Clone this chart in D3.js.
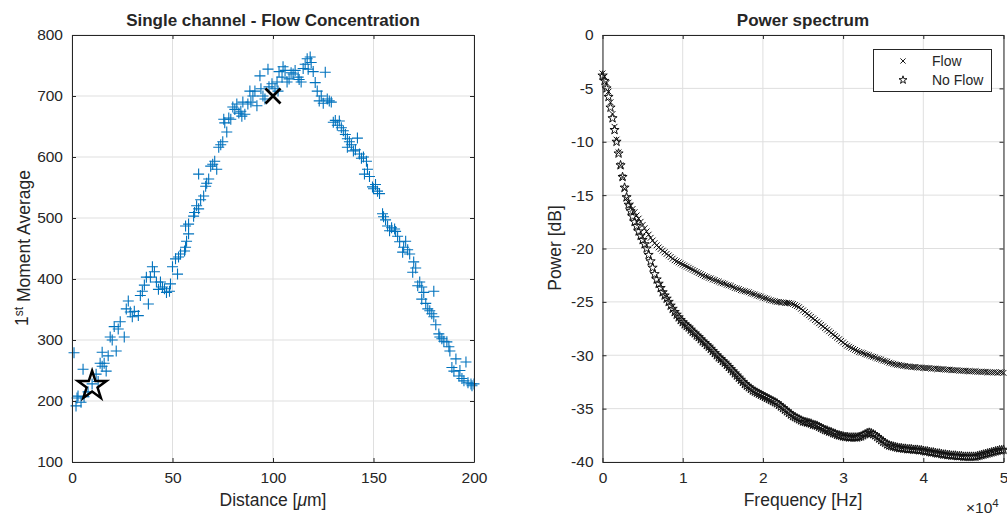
<!DOCTYPE html>
<html><head><meta charset="utf-8">
<script src="https://cdn.jsdelivr.net/npm/d3@7"></script>
<style>
body{margin:0;background:#fff}
svg{display:block}
text{font-family:"Liberation Sans",Arial,Helvetica,sans-serif;fill:#262626}
</style>
</head><body>
<svg id="c" width="1007" height="517"></svg>
<script>
// ---------- Left panel data: Distance [um] vs 1st moment average ----------
const distance = [1,2,2.5,3,4.5,5.5,6,8,10,12,13,14,15,15,16,17,18,19,20,21,22,23,24,26,27,28,29,30,31,33,34,35,36,37,38,39,40,41,42,43,44,45,46,47,48.5,49,50,51.5,52.5,53,54,56,56.5,56.5,57,58,58,60.5,61,62,63,63,64,65.5,66.5,67,68,69,70,71,72,73,74,75,75.5,76,77,78,79,80,81,82,83,84,84.5,85,86,87.5,88.5,89,90,91,92,93.5,94,95,96,97.5,98,99.5,101,102,102.5,103,104.5,105,106,107,108,109,110,111,112.5,113,114,115,116,117,117.5,118.5,119,120,121,122,123,124,125,126,127,128,129,130,131,132,133,134,135,136,137,137,138,139,140,141,142,143,144,145,145.5,146.5,147,148,149.5,150,151,152,153,154.5,155,156,157,158,159,160.5,161,162,163,164.5,165,166,167,168,169.5,170,171,172,173,174,174,175,176,177,178,179,180,180,181,182.5,183,184,185,186.5,187.5,188,189,190,191,192.5,193,194,195,196,197,198.5,199,200];
const moment = [279,192,205,208,198,252,207,215,228,244,232,262,257,280,262,249,274,305,300,322,282,318,330,305,351,364,346,338,347,340,373,380,390,403,359,403,420,412,395,383,395,387,384,378,380,392,420,433,408,436,441,446,452,487,462,474,490,503,509,520,515,572,530,536,552,557,564,585,588,593,580,616,620,625,662,656,641,664,662,682,678,687,672,675,667,690,670,687,708,690,700,708,684,733,712,700,695,744,715,720,712,723,708,740,731,748,742,723,728,738,736,742,731,727,723,745,752,761,744,764,755,740,722,708,692,700,688,739,695,692,690,657,660,652,659,648,643,637,630,616,625,620,610,612,631,605,598,600,572,593,580,568,551,548,555,544,540,507,502,497,487,479,484,482,478,470,461,444,452,462,448,441,411,428,418,389,395,387,367,378,360,351,348,343,380,338,325,310,305,302,298,297,289,282,255,249,269,241,250,237,233,264,230,228,225,228];
const flowMarker = [100, 700];   // black "x"
const noFlowMarker = [10, 225];  // black pentagram
const leftXTicks = [0, 50, 100, 150, 200];
const leftYTicks = [100, 200, 300, 400, 500, 600, 700, 800];

// ---------- Right panel data: power spectra, 250 Hz spacing, 0..50 kHz ----------
const freqStepHz = 250;
const powerFlow = [-3.6,-3.9,-4.5,-5.3,-6.3,-7.4,-8.6,-9.8,-11.0,-12.2,-13.3,-14.4,-15.3,-15.7,-16.0,-16.3,-16.6,-16.9,-17.2,-17.5,
-17.8,-18.1,-18.4,-18.7,-19.0,-19.25,-19.5,-19.7,-19.9,-20.05,-20.2,-20.35,-20.5,-20.65,-20.8,-20.95,-21.1,-21.2,-21.3,-21.4,
-21.5,-21.6,-21.7,-21.8,-21.9,-22.0,-22.1,-22.2,-22.3,-22.4,-22.5,-22.6,-22.65,-22.75,-22.8,-22.9,-22.95,-23.05,-23.1,-23.2,
-23.25,-23.3,-23.4,-23.45,-23.5,-23.6,-23.7,-23.75,-23.8,-23.9,-23.95,-24.0,-24.05,-24.1,-24.2,-24.25,-24.3,-24.4,-24.45,-24.5,
-24.6,-24.65,-24.7,-24.8,-24.85,-24.9,-24.95,-25.0,-25.0,-25.05,-25.05,-25.1,-25.1,-25.1,-25.15,-25.2,-25.3,-25.4,-25.5,-25.65,
-25.8,-25.95,-26.1,-26.25,-26.4,-26.55,-26.7,-26.85,-27.0,-27.15,-27.3,-27.45,-27.6,-27.75,-27.9,-28.05,-28.2,-28.35,-28.5,-28.65,
-28.8,-28.95,-29.1,-29.2,-29.3,-29.4,-29.5,-29.6,-29.7,-29.75,-29.8,-29.9,-29.95,-30.0,-30.1,-30.15,-30.2,-30.3,-30.35,-30.4,
-30.5,-30.55,-30.6,-30.7,-30.75,-30.8,-30.85,-30.9,-30.9,-30.95,-31.0,-31.0,-31.05,-31.05,-31.1,-31.1,-31.1,-31.15,-31.15,-31.15,
-31.2,-31.2,-31.2,-31.2,-31.25,-31.25,-31.25,-31.3,-31.3,-31.3,-31.3,-31.35,-31.35,-31.35,-31.4,-31.4,-31.4,-31.4,-31.45,-31.45,
-31.45,-31.45,-31.5,-31.5,-31.5,-31.5,-31.5,-31.55,-31.55,-31.55,-31.55,-31.55,-31.6,-31.6,-31.6,-31.6,-31.6,-31.65,-31.6,-31.6,
-31.65];
const powerNoFlow = [-3.8,-4.3,-5.0,-5.8,-6.8,-7.8,-8.9,-10.0,-11.1,-12.2,-13.3,-14.3,-15.2,-15.9,-16.5,-17.0,-17.5,-17.9,-18.4,-18.8,
-19.2,-19.6,-20.0,-20.6,-21.2,-21.8,-22.4,-22.9,-23.3,-23.7,-24.1,-24.4,-24.7,-25.0,-25.35,-25.65,-25.95,-26.2,-26.45,-26.7,
-26.9,-27.1,-27.25,-27.4,-27.6,-27.8,-27.95,-28.15,-28.3,-28.5,-28.7,-28.85,-29.05,-29.2,-29.4,-29.6,-29.8,-30.0,-30.2,-30.35,
-30.55,-30.7,-30.9,-31.1,-31.3,-31.5,-31.7,-31.9,-32.1,-32.3,-32.5,-32.7,-32.85,-33.0,-33.15,-33.3,-33.4,-33.5,-33.6,-33.7,
-33.8,-33.9,-34.0,-34.1,-34.2,-34.3,-34.4,-34.5,-34.65,-34.8,-34.95,-35.1,-35.25,-35.4,-35.55,-35.7,-35.8,-35.9,-36.0,-36.1,
-36.2,-36.25,-36.3,-36.35,-36.4,-36.5,-36.55,-36.6,-36.7,-36.8,-36.9,-37.0,-37.05,-37.15,-37.2,-37.3,-37.35,-37.45,-37.5,-37.55,
-37.6,-37.65,-37.65,-37.7,-37.7,-37.7,-37.7,-37.7,-37.65,-37.6,-37.5,-37.4,-37.3,-37.25,-37.3,-37.4,-37.5,-37.65,-37.8,-37.95,
-38.1,-38.2,-38.35,-38.45,-38.5,-38.55,-38.6,-38.65,-38.7,-38.7,-38.75,-38.75,-38.8,-38.8,-38.8,-38.85,-38.85,-38.85,-38.9,-38.9,
-38.95,-39.0,-39.0,-39.05,-39.1,-39.1,-39.15,-39.2,-39.2,-39.25,-39.3,-39.3,-39.35,-39.35,-39.4,-39.4,-39.4,-39.45,-39.45,-39.45,
-39.5,-39.5,-39.5,-39.5,-39.5,-39.5,-39.5,-39.45,-39.4,-39.35,-39.3,-39.25,-39.2,-39.15,-39.1,-39.05,-39.0,-38.95,-38.9,-38.9,
-38.85];
const rightXTicks = [0, 10000, 20000, 30000, 40000, 50000];
const rightXTickLabels = ["0", "1", "2", "3", "4", "5"];
const rightYTicks = [-40, -35, -30, -25, -20, -15, -10, -5, 0];
const legendLabels = ["Flow", "No Flow"];

// ---------- drawing ----------
const svg = d3.select("#c");
const AX = "#262626", GRID = "#dfdfdf";
const TOP = 35, BOTTOM = 462;

function starPath(R) {
  const r = R * 0.382, pts = [];
  for (let i = 0; i < 10; i++) {
    const a = -Math.PI / 2 + i * Math.PI / 5, rad = i % 2 ? r : R;
    pts.push([rad * Math.cos(a), rad * Math.sin(a)]);
  }
  return "M" + pts.map(p => p[0].toFixed(2) + "," + p[1].toFixed(2)).join("L") + "Z";
}
function crossPath(h) { return `M${-h},${-h}L${h},${h}M${-h},${h}L${h},${-h}`; }
function plusPath(h) { return `M${-h},0L${h},0M0,${-h}L0,${h}`; }
const plainNum = d => String(d);   // hyphen-minus like the reference

function drawFrame(g, x, y, xt, yt) {
  const [x0, x1] = x.range(), [y0, y1] = y.range();
  g.append("g").selectAll("line").data(xt).join("line")
    .attr("x1", d => x(d)).attr("x2", d => x(d)).attr("y1", y0).attr("y2", y1)
    .attr("stroke", GRID).attr("stroke-width", 1);
  g.append("g").selectAll("line").data(yt).join("line")
    .attr("y1", d => y(d)).attr("y2", d => y(d)).attr("x1", x0).attr("x2", x1)
    .attr("stroke", GRID).attr("stroke-width", 1);
}
function drawAxes(g, x, y, xt, yt, xfmt, yfmt) {
  const [x0, x1] = x.range(), [y0, y1] = y.range();
  const bottom = g.append("g").attr("transform", `translate(0,${y0})`)
    .call(d3.axisBottom(x).tickValues(xt).tickFormat(xfmt).tickSize(-4).tickPadding(10).tickSizeOuter(0));
  const top = g.append("g").attr("transform", `translate(0,${y1})`)
    .call(d3.axisTop(x).tickValues(xt).tickFormat("").tickSize(-4).tickSizeOuter(0));
  const left = g.append("g").attr("transform", `translate(${x0},0)`)
    .call(d3.axisLeft(y).tickValues(yt).tickFormat(yfmt).tickSize(-4).tickPadding(9).tickSizeOuter(0));
  const right = g.append("g").attr("transform", `translate(${x1},0)`)
    .call(d3.axisRight(y).tickValues(yt).tickFormat("").tickSize(-4).tickSizeOuter(0));
  [bottom, top, left, right].forEach(a => {
    a.selectAll("path.domain").attr("stroke", AX).attr("stroke-width", 1);
    a.selectAll(".tick line").attr("stroke", AX).attr("stroke-width", 1);
    a.selectAll("text").attr("fill", AX).style("font-size", "15.5px")
      .style("font-family", '"Liberation Sans",Arial,Helvetica,sans-serif');
  });
}

// ----- Left panel -----
const xL = d3.scaleLinear().domain([0, 200]).range([72, 474]);
const yL = d3.scaleLinear().domain([100, 800]).range([BOTTOM, TOP]);
const gL = svg.append("g");
drawFrame(gL, xL, yL, leftXTicks, leftYTicks);
const pts = distance.map((d, i) => [d, moment[i]]);
gL.append("g").selectAll("path").data(pts).join("path")
  .attr("transform", d => `translate(${xL(d[0])},${yL(d[1])})`)
  .attr("d", plusPath(5.5)).attr("fill", "none").attr("stroke", "#0072BD").attr("stroke-width", 1.1);
gL.append("path").attr("transform", `translate(${xL(flowMarker[0])},${yL(flowMarker[1])})`)
  .attr("d", crossPath(7.5)).attr("stroke", "#000").attr("stroke-width", 2.8).attr("fill", "none");
gL.append("path").attr("transform", `translate(${xL(noFlowMarker[0])},${yL(noFlowMarker[1])})`)
  .attr("d", starPath(15)).attr("stroke", "#000").attr("stroke-width", 2.5).attr("fill", "none")
  .attr("stroke-linejoin", "miter");
drawAxes(gL, xL, yL, leftXTicks, leftYTicks, plainNum, plainNum);
gL.append("text").attr("x", 273).attr("y", 26).attr("text-anchor", "middle")
  .style("font-weight", "bold").style("font-size", "17px").attr("fill", "#000")
  .text("Single channel - Flow Concentration");
const xlab = gL.append("text").attr("x", 273).attr("y", 506).attr("text-anchor", "middle").style("font-size", "17.5px");
xlab.append("tspan").text("Distance [");
xlab.append("tspan").style("font-style", "italic").text("μ");
xlab.append("tspan").text("m]");
const ylab = gL.append("text").attr("transform", "translate(28,248) rotate(-90)").attr("text-anchor", "middle").style("font-size", "17.5px");
ylab.append("tspan").text("1");
ylab.append("tspan").attr("dy", "-0.45em").style("font-size", "12px").text("st");
ylab.append("tspan").attr("dy", "0.45em").text(" Moment Average");

// ----- Right panel -----
const xR = d3.scaleLinear().domain([0, 50000]).range([602.5, 1003.5]);
const yR = d3.scaleLinear().domain([-40, 0]).range([BOTTOM, TOP]);
const gR = svg.append("g");
drawFrame(gR, xR, yR, rightXTicks, rightYTicks);
svg.append("defs").append("clipPath").attr("id", "clipR").append("rect")
  .attr("x", 590).attr("y", TOP - 8).attr("width", 417).attr("height", BOTTOM - TOP + 16);
const plotR = gR.append("g").attr("clip-path", "url(#clipR)");
plotR.append("g").selectAll("path").data(powerFlow).join("path")
  .attr("transform", (d, i) => `translate(${xR(i * freqStepHz)},${yR(d)})`)
  .attr("d", crossPath(2.9)).attr("stroke", "#111").attr("stroke-width", 1).attr("fill", "none");
plotR.append("g").selectAll("path").data(powerNoFlow).join("path")
  .attr("transform", (d, i) => `translate(${xR(i * freqStepHz)},${yR(d)})`)
  .attr("d", starPath(4.8)).attr("stroke", "#111").attr("stroke-width", 1).attr("fill", "none");
drawAxes(gR, xR, yR, rightXTicks, rightYTicks, (d, i) => rightXTickLabels[i], plainNum);
gR.append("text").attr("x", 803).attr("y", 26).attr("text-anchor", "middle")
  .style("font-weight", "bold").style("font-size", "17px").attr("fill", "#000").text("Power spectrum");
gR.append("text").attr("x", 803).attr("y", 506).attr("text-anchor", "middle").style("font-size", "17.5px").text("Frequency [Hz]");
gR.append("text").attr("transform", "translate(561,248) rotate(-90)").attr("text-anchor", "middle").style("font-size", "17.5px").text("Power [dB]");
const mult = gR.append("text").attr("x", 966).attr("y", 513).style("font-size", "15.5px");
mult.append("tspan").text("×10");
mult.append("tspan").attr("dy", "-0.55em").style("font-size", "11.5px").text("4");

// legend
const lg = gR.append("g");
lg.append("rect").attr("x", 873.5).attr("y", 49.5).attr("width", 118).attr("height", 42)
  .attr("fill", "#fff").attr("stroke", AX).attr("stroke-width", 1);
const legendShapes = [crossPath(2.6), starPath(4.2)];
legendLabels.forEach((lab, i) => {
  const cy = 61 + i * 19;
  lg.append("path").attr("transform", `translate(903,${cy})`).attr("d", legendShapes[i])
    .attr("stroke", "#000").attr("stroke-width", 0.9).attr("fill", "none");
  lg.append("text").attr("x", 932).attr("y", cy + 5).style("font-size", "14px").text(lab);
});
</script>
</body></html>
